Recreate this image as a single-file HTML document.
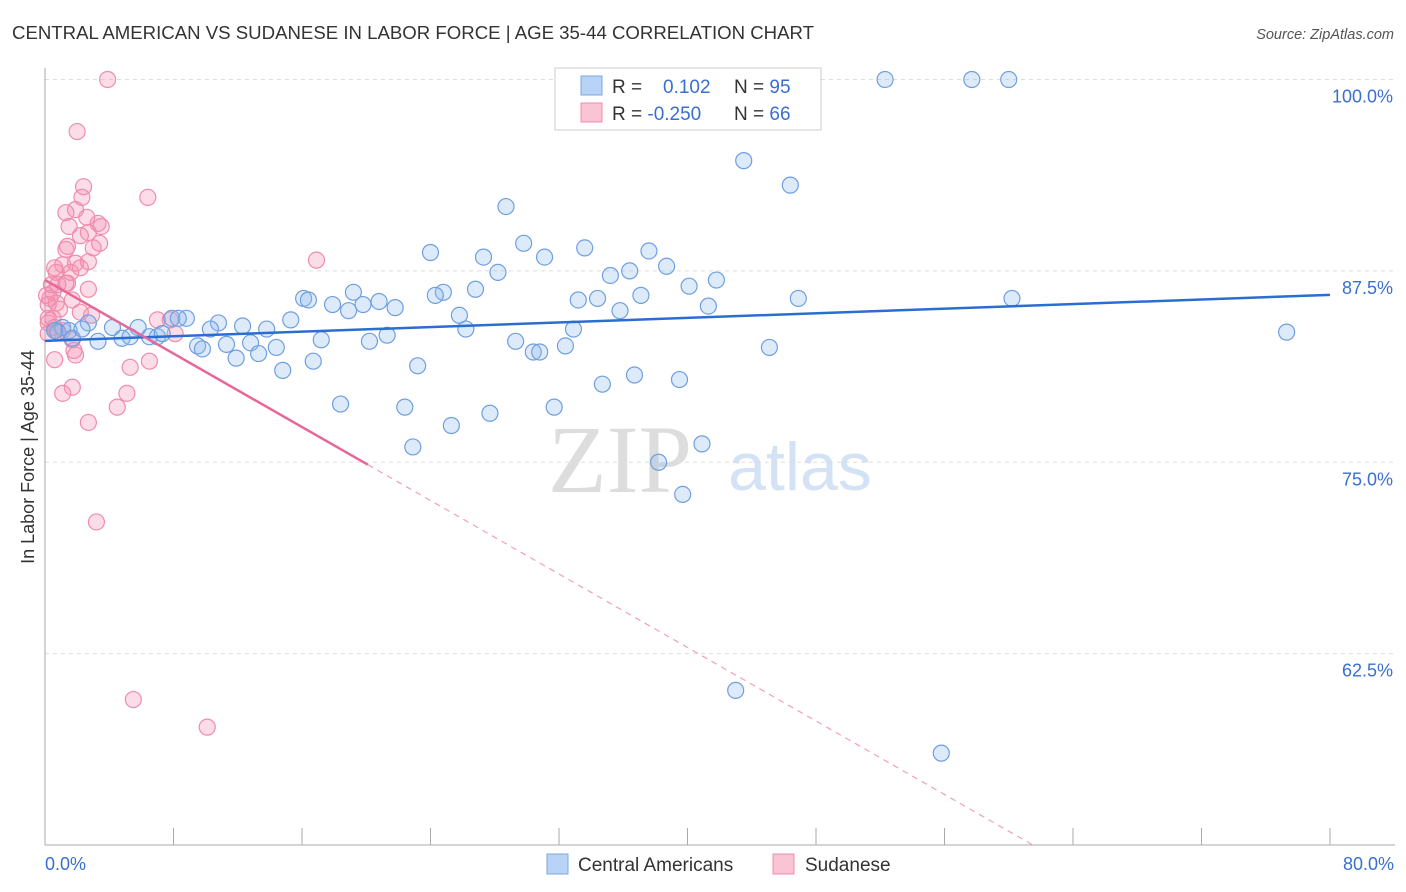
<!DOCTYPE html>
<html><head><meta charset="utf-8"><style>
body{margin:0;background:#fff;font-family:"Liberation Sans",sans-serif;}
#wrap{position:relative;width:1406px;height:892px;overflow:hidden;}
</style></head><body>
<div id="wrap">
<svg id="svg" width="1406" height="892" xmlns="http://www.w3.org/2000/svg">
<text x="12" y="39" font-size="18" fill="#333" textLength="802" lengthAdjust="spacingAndGlyphs">CENTRAL AMERICAN VS SUDANESE IN LABOR FORCE | AGE 35-44 CORRELATION CHART</text>
<text x="1394" y="39" font-size="14.5" fill="#555" font-style="italic" text-anchor="end">Source: ZipAtlas.com</text>
<text x="620" y="492" font-size="96" fill="#ddd" font-family="Liberation Serif,serif" text-anchor="middle">ZIP</text>
<text x="800" y="490" font-size="68" fill="#d3e2f5" text-anchor="middle">atlas</text>
<text transform="translate(34,457) rotate(-90)" font-size="18" fill="#333" text-anchor="middle">In Labor Force | Age 35-44</text>
<g id="grid"></g><g id="pts"></g><g id="trend"></g>
<g>
<rect x="555" y="68" width="266" height="62" fill="#fff" stroke="#ccc"/>
<rect x="581" y="76" width="21" height="19" fill="#b8d3f5" stroke="#7aa8e6"/>
<rect x="581" y="103" width="21" height="19" fill="#f9c4d4" stroke="#f08cab"/>
<text x="612" y="93" font-size="19" fill="#333">R = <tspan x="663" fill="#3a6fd0">0.102</tspan></text>
<text x="734" y="93" font-size="19" fill="#333">N = <tspan fill="#3a6fd0">95</tspan></text>
<text x="612" y="120" font-size="19" fill="#333">R = <tspan fill="#3a6fd0">-0.250</tspan></text>
<text x="734" y="120" font-size="19" fill="#333">N = <tspan fill="#3a6fd0">66</tspan></text>
</g>
<g>
<rect x="547" y="854" width="21" height="20" fill="#b8d3f5" stroke="#7aa8e6"/>
<text x="578" y="871" font-size="19" fill="#333">Central Americans</text>
<rect x="773" y="854" width="21" height="20" fill="#f9c4d4" stroke="#f08cab"/>
<text x="805" y="871" font-size="19" fill="#333">Sudanese</text>
</g>
</svg></div>
<script>
const yTicks=[100,87.5,75,62.5];
const yTickLabels=["100.0%","87.5%","75.0%","62.5%"];
const xTicks=[0,8,16,24,32,40,48,56,64,72,80];
const blueX=[52.3,57.7,60.0,43.5,46.4,28.7,29.8,33.6,37.6,24.0,31.1,27.3,38.7,28.2,35.2,36.4,41.8,26.8,40.1,24.8,24.3,33.2,34.4,37.1,46.9,60.2,16.1,16.4,17.9,19.2,19.8,20.8,21.8,18.9,35.8,41.3,25.8,15.3,7.9,8.8,8.3,10.8,12.3,10.3,26.2,32.9,77.3,5.8,4.2,2.7,1.1,0.8,0.6,1.5,1.7,3.3,4.8,5.3,6.5,7.0,7.3,9.5,9.8,11.3,12.8,14.4,17.2,20.2,21.3,29.3,30.4,30.8,32.4,45.1,11.9,13.3,16.7,14.8,23.2,34.7,36.7,39.5,18.4,22.4,31.7,27.7,25.3,22.9,40.9,38.2,39.7,43.0,55.8,13.8,2.3];
const blueY=[100,100,100,94.7,93.1,91.7,89.3,89.0,88.8,88.7,88.4,88.4,87.8,87.4,87.2,87.5,86.9,86.3,86.5,86.1,85.9,85.6,85.7,85.9,85.7,85.7,85.7,85.6,85.3,86.1,85.3,85.5,85.1,84.9,84.9,85.2,84.6,84.3,84.4,84.4,84.4,84.1,83.9,83.7,83.7,83.7,83.5,83.8,83.8,84.1,83.8,83.5,83.6,83.6,83.1,82.9,83.1,83.2,83.2,83.2,83.4,82.6,82.4,82.7,82.8,82.5,83.0,82.9,83.3,82.9,82.2,82.2,82.6,82.5,81.8,82.1,81.6,81.0,81.3,80.1,80.7,80.4,78.8,78.6,78.6,78.2,77.4,76.0,76.2,75.0,72.9,60.1,56.0,83.7,83.7];
const pinkX=[3.9,2.0,2.4,2.3,6.4,1.3,1.9,2.6,1.5,3.5,3.3,2.7,2.2,1.4,1.3,3.4,3.0,16.9,2.7,1.9,1.1,0.7,0.6,1.6,2.2,1.4,0.4,0.5,2.7,0.3,0.7,1.7,0.9,2.2,0.2,0.5,2.9,7.0,7.8,0.2,0.6,1.1,0.2,1.7,8.1,0.7,1.8,1.9,0.6,6.5,5.3,1.7,5.1,1.1,4.5,2.7,3.2,5.5,10.1,0.8,1.3,0.1,0.2];
const pinkY=[100,96.6,93.0,92.3,92.3,91.3,91.5,91.0,90.4,90.4,90.6,90.0,89.8,89.1,88.9,89.3,89.0,88.2,88.1,88.0,87.9,87.4,87.7,87.4,87.7,86.7,86.6,86.1,86.3,85.7,85.4,85.6,85.0,84.8,84.4,84.4,84.6,84.3,84.3,84.1,83.8,83.6,83.4,83.0,83.4,83.6,82.3,82.0,81.7,81.6,81.2,79.9,79.5,79.5,78.6,77.6,71.1,59.5,57.7,86.6,86.7,85.9,85.3];
const blueTrend=[82.93,0.0375];
const pinkTrend=[86.9,-0.6];
const pinkSolidEnd=20.1;
const X0=45,X1=1330,YT=79.5,YB=845;
const sx=v=>X0+(v/80)*(X1-X0);
const sy=v=>YB-(v-50)/50*(YB-YT);
const NS="http://www.w3.org/2000/svg";
function mk(t,a,p){const e=document.createElementNS(NS,t);for(const k in a)e.setAttribute(k,a[k]);p.appendChild(e);return e;}
const grid=document.getElementById('grid');
yTicks.forEach((v,i)=>{
 const l=mk('line',{x1:X0,x2:1395,y1:sy(v),y2:sy(v),stroke:'#ddd','stroke-dasharray':'4,4'},grid);
 
 
 const t=mk('text',{x:1393,y:sy(v)+23,'font-size':18,fill:'#3a6fd0','text-anchor':'end'},grid);
 t.textContent=yTickLabels[i];
 
 
});
let ax=mk('line',{x1:X0,x2:X0,y1:68,y2:YB,stroke:'#aaa'},grid);


ax=mk('line',{x1:X0,x2:1395,y1:YB,y2:YB,stroke:'#aaa'},grid);


xTicks.forEach(v=>{
 const l=mk('line',{x1:sx(v),x2:sx(v),y1:828,y2:YB,stroke:'#aaa'},grid);
 
 
});
let t=mk('text',{x:45,y:870,'font-size':18,fill:'#3a6fd0'},grid);t.textContent='0.0%';


t=mk('text',{x:1394,y:870,'font-size':18,fill:'#3a6fd0','text-anchor':'end'},grid);t.textContent='80.0%';


const pts=document.getElementById('pts');
pinkX.forEach((x,i)=>{
 const c=mk('circle',{cx:sx(x),cy:sy(pinkY[i]),r:8,fill:'rgba(244,143,177,0.3)',stroke:'#f08cab','stroke-width':1.2},pts);
 
 
});
blueX.forEach((x,i)=>{
 const c=mk('circle',{cx:sx(x),cy:sy(blueY[i]),r:8,fill:'rgba(144,185,240,0.3)',stroke:'#6f9fe0','stroke-width':1.2},pts);
 
 
});
const tr=document.getElementById('trend');
let l=mk('line',{x1:sx(0),y1:sy(blueTrend[0]),x2:sx(80),y2:sy(blueTrend[0]+blueTrend[1]*80),stroke:'#2a6dd3','stroke-width':2.5},tr);


const pf=x=>pinkTrend[0]+pinkTrend[1]*x;
l=mk('line',{x1:sx(0),y1:sy(pf(0)),x2:sx(pinkSolidEnd),y2:sy(pf(pinkSolidEnd)),stroke:'#e8679a','stroke-width':2.5},tr);


const xEnd=(50-pinkTrend[0])/pinkTrend[1];
l=mk('line',{x1:sx(pinkSolidEnd),y1:sy(pf(pinkSolidEnd)),x2:sx(xEnd),y2:sy(50),stroke:'#f0a0bd','stroke-width':1.2,'stroke-dasharray':'6,5'},tr);


</script>
</body></html>
